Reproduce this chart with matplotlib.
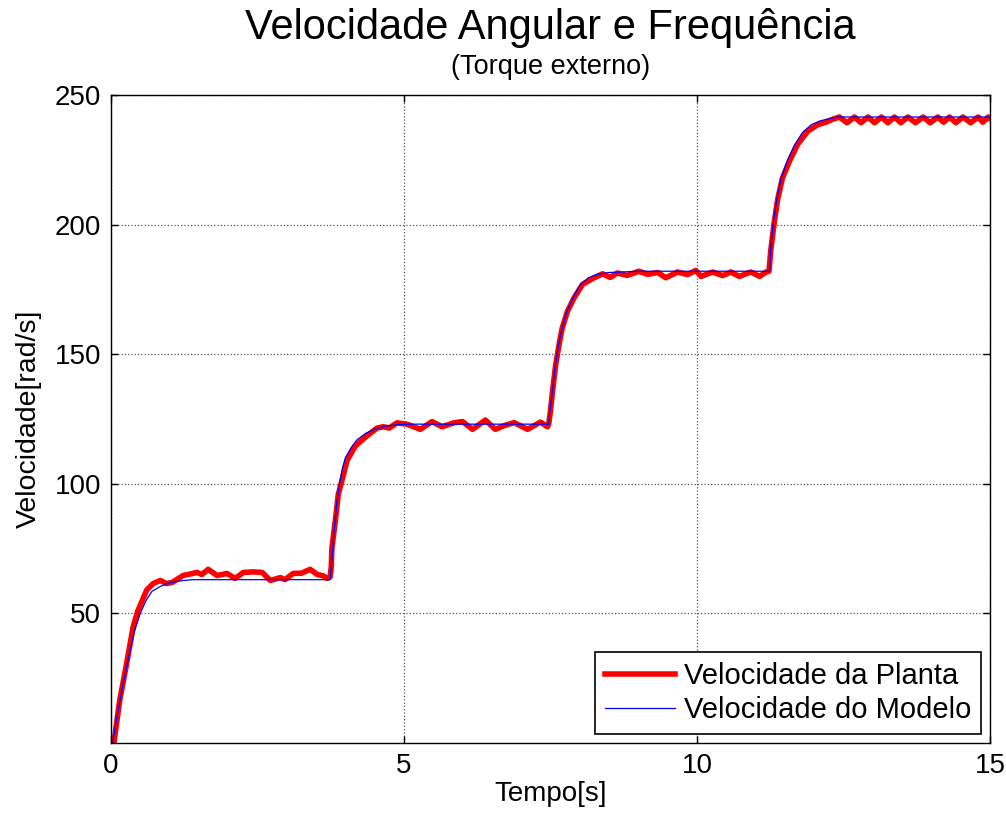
import matplotlib
matplotlib.use("Agg")
import matplotlib.pyplot as plt

plt.rcParams['font.family'] = ['Liberation Sans', 'DejaVu Sans']

# Model velocity (blue)
t_model = [0, 0.03, 0.1, 0.2, 0.3, 0.4, 0.5, 0.6, 0.7, 0.85, 1.0, 1.2, 1.4,
           3.74, 3.76, 3.8, 3.85, 3.9, 3.95, 4.0, 4.1, 4.2, 4.35, 4.5, 4.7, 4.9, 5.1,
           7.47, 7.49, 7.53, 7.58, 7.64, 7.7, 7.78, 7.88, 8.0, 8.15, 8.3, 8.5, 9.0,
           11.24, 11.26, 11.3, 11.36, 11.44, 11.54, 11.66, 11.8, 11.95, 12.1, 12.25, 12.4, 15.0]
v_model = [0, 0, 10, 22, 33, 43, 50, 55, 58.5, 60.5, 61.8, 62.6, 63,
           63, 68, 80, 92, 100, 106, 110, 114, 117, 119.5, 121, 122.3, 122.8, 123,
           123, 128, 135, 145, 154, 160, 166.5, 171.5, 176.5, 179.5, 180.8, 181.5, 182,
           182, 191, 200, 209.5, 218, 224.5, 230.5, 235.5, 238.5, 240, 240.8, 241.5, 241.5]

# Plant velocity (red)
t_plant = [0, 0.05, 0.08, 0.15, 0.27, 0.38, 0.46, 0.61, 0.72, 0.84, 0.95, 1.05, 1.23,
           1.47, 1.55, 1.66, 1.81, 1.98, 2.12, 2.26, 2.43, 2.58, 2.72, 2.89, 2.97, 3.11,
           3.25, 3.40, 3.52, 3.62, 3.69, 3.74,
           3.76, 3.77, 3.83, 3.88, 3.95, 4.03, 4.17, 4.37, 4.54, 4.65, 4.75, 4.88, 5.05,
           5.28, 5.48, 5.65, 5.85, 6.0, 6.17, 6.39, 6.56, 6.72, 6.88, 7.11, 7.33, 7.45, 7.47,
           7.50, 7.53, 7.59, 7.65, 7.70, 7.79, 7.90, 8.05, 8.24, 8.39, 8.52, 8.64, 8.81,
           9.01, 9.16, 9.33, 9.47, 9.67, 9.84, 9.98, 10.07, 10.27, 10.44, 10.58, 10.72,
           10.92, 11.07, 11.18, 11.23,
           11.26, 11.32, 11.38, 11.46, 11.58, 11.72, 11.89, 12.06, 12.2, 12.3,
           12.43, 12.56, 12.69, 12.8, 12.92, 13.03, 13.15, 13.26, 13.37, 13.48, 13.6,
           13.73, 13.86, 13.98, 14.11, 14.21, 14.31, 14.42, 14.54, 14.67, 14.8, 14.88, 14.97, 15.0]
v_plant = [0, 0, 5, 16.5, 31, 45, 51, 59, 61.5, 62.7, 61.5, 62, 64.6,
           65.8, 65, 67, 64.6, 65.4, 63.5, 65.8, 66, 65.8, 62.7, 63.8, 63, 65.4,
           65.5, 67, 65, 64.5, 63.5, 64,
           68, 75, 86, 96, 102, 109, 114.6, 118.5, 121.5, 122, 121.5, 123.5, 123,
           121, 124, 122, 123.5, 124, 121, 124.6, 121, 122.5, 123.6, 121, 123.8, 122, 123,
           128, 134.6, 146, 154, 160, 166.5, 171.6, 177, 179.4, 181, 179.6, 181.3, 180.4,
           182, 180.8, 181.5, 179.5, 181.7, 180.7, 182.3, 180, 181.7, 180.3, 181.7, 180,
           181.7, 180, 181.7, 182,
           190, 201, 210, 218, 224.5, 231, 236, 238.5, 239.5, 240.5,
           241.5, 239.3, 241.5, 239.3, 241.5, 239.3, 241.5, 239.3, 241.5, 239.3, 241.5,
           239.3, 241.5, 239.3, 241.5, 239.5, 241.5, 239.3, 241.5, 239.3, 241.5, 239.5, 241.5, 241]

x_ticks = [0, 5, 10, 15]
y_ticks = [50, 100, 150, 200, 250]

fig = plt.figure(figsize=(10.06, 8.16), dpi=100)
ax = fig.add_axes([0.1103, 0.0895, 0.8737, 0.7941])

ax.plot(t_plant, v_plant, color='#ff0000', lw=4, label='Velocidade da Planta', solid_joinstyle='round')
ax.plot(t_model, v_model, color='#0000ff', lw=0.9, label='Velocidade do Modelo')

ax.set_xlim(0, 15)
ax.set_ylim(0, 250)
ax.set_xticks(x_ticks)
ax.set_yticks(y_ticks)
ax.tick_params(direction='in', top=True, right=True, labelsize=20, length=5, width=1, pad=7)
ax.grid(True, linestyle=':', color='#555555', linewidth=0.9)
for s in ax.spines.values():
    s.set_linewidth(1)
    s.set_color('black')

ax.set_xlabel('Tempo[s]', fontsize=20, labelpad=2)
ax.set_ylabel('Velocidade[rad/s]', fontsize=20.5, labelpad=9)

fig.text(0.547, 0.966, 'Velocidade Angular e Frequência', ha='center', va='center', fontsize=30)
fig.text(0.547, 0.918, '(Torque externo)', ha='center', va='center', fontsize=19.5)

leg = ax.legend(loc='lower right', fontsize=21, frameon=True, fancybox=False,
                edgecolor='black', framealpha=1, handlelength=2.4, borderaxespad=0.3,
                borderpad=0.35, labelspacing=0.2, handletextpad=0.3)
leg.get_frame().set_linewidth(1.2)

fig.savefig('out.png', dpi=100)
